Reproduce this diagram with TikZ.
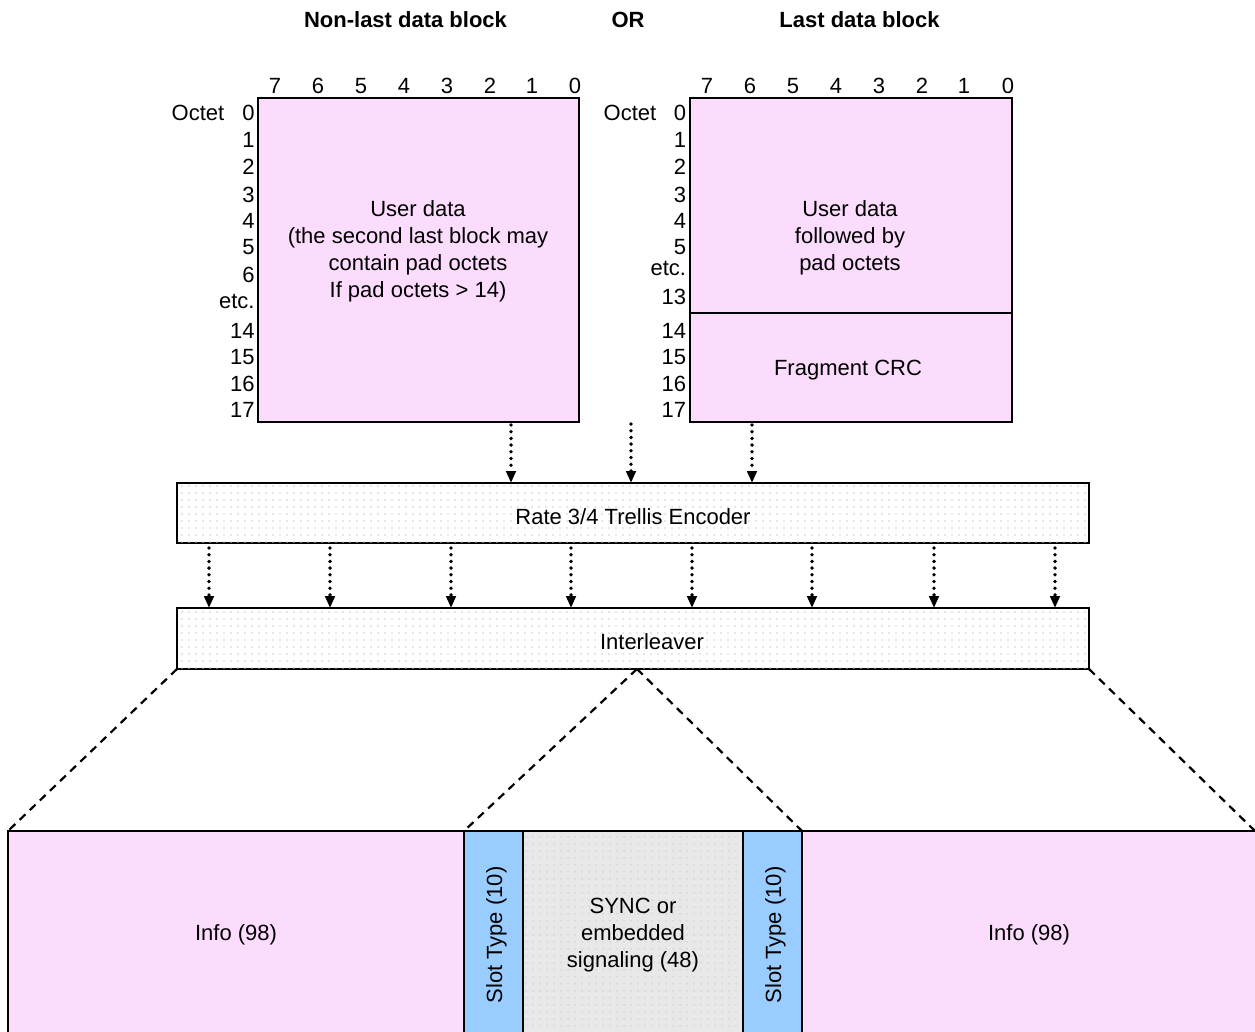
\documentclass[tikz,border=0pt]{standalone}
\usepackage{fontspec}
\setmainfont{Liberation Sans}
\usetikzlibrary{arrows.meta,patterns.meta,calc}
\definecolor{pinkfill}{RGB}{252,220,252}
\definecolor{slotblue}{RGB}{153,204,255}
\definecolor{syncgray}{RGB}{232,232,232}
\definecolor{dotgray}{RGB}{205,205,205}
\begin{document}
\begin{tikzpicture}[x=1pt,y=-1pt,
  lbl/.style={font=\fontsize{22}{27}\selectfont, inner sep=0pt, outer sep=0pt},
  ttl/.style={font=\fontsize{22}{27}\selectfont\bfseries, inner sep=0pt},
  box/.style={draw, line width=1.8pt, inner sep=0pt, outer sep=0pt, anchor=north west,
              font=\fontsize{22}{27}\selectfont, align=center},
  dotted box/.style={box, fill=white, postaction={pattern={Dots[radius=0.8pt,distance=7pt]}, pattern color=dotgray}},
  flow/.style={line width=3.8pt, dash pattern=on 0pt off 6.7pt, line cap=round,
               -{Triangle[width=9.5pt,length=12pt,line cap=butt,line join=miter]}},
  fan/.style={line width=2.2pt, dash pattern=on 8pt off 6pt}
]
\useasboundingbox (0,0) rectangle (1255,1032);

% titles
\node[ttl] (t1) at (405.5,20) {Non-last data block};
\node[ttl] (t2) at (628,20) {OR};
\node[ttl] (t3) at (859.5,20) {Last data block};

% left block
\node[box, fill=pinkfill, minimum width=321pt, minimum height=324pt] (blkL) at (258,98) {};
\node[lbl, align=center] (txtL) at (418,251) {User data\\(the second last block may\\contain pad octets\\If pad octets > 14)};
\foreach \b/\x [count=\i] in {7/275,6/318,5/361,4/404,3/447,2/490,1/532,0/575}
  \node[lbl] (bL\i) at (\x,86) {\b};
\node[lbl] (octL) at (198,113) {Octet};
\foreach \t/\y [count=\i] in {0/113,1/140,2/167,3/195,4/221,5/247,6/275,etc./301,14/331,15/357,16/384,17/410}
  \node[lbl, anchor=east] (oL\i) at (254.5,\y) {\t};

% right block
\node[box, fill=pinkfill, minimum width=322pt, minimum height=324pt] (blkR) at (690,98) {};
\coordinate (dv) at (690,313);
\draw[line width=1.5pt] (dv) -- (dv -| blkR.east);
\node[lbl, align=center] (txtR) at (850,238) {User data\\followed by\\pad octets};
\node[lbl] (crc) at (848,370) {Fragment CRC};
\foreach \b/\x [count=\i] in {7/707,6/750,5/793,4/836,3/879,2/922,1/964,0/1008}
  \node[lbl] (bR\i) at (\x,86) {\b};
\node[lbl] (octR) at (630,113) {Octet};
\foreach \t/\y [count=\i] in {0/113,1/140,2/167,3/195,4/221,5/247,etc./268,13/297,14/331,15/357,16/384,17/410}
  \node[lbl, anchor=east] (oR\i) at (686,\y) {\t};

% encoder and interleaver
\node[dotted box, minimum width=912pt, minimum height=60pt] (enc) at (177,483) {};
\node[lbl] (encT) at (633,516.5) {Rate 3/4 Trellis Encoder};
\node[dotted box, minimum width=912pt, minimum height=61pt] (intl) at (177,608) {};
\node[lbl] (intT) at (652,642) {Interleaver};

% arrows into encoder
\coordinate (s1) at (511,425);
\coordinate (s2) at (631,424);
\coordinate (s3) at (752,425);
\foreach \s in {s1,s2,s3}
  \draw[flow] (\s) -- (\s |- enc.north);

% arrows encoder -> interleaver
\foreach \x [count=\i] in {209,330,451,571,692,812,934,1055} {
  \coordinate (e\i) at (\x,548);
  \draw[flow] (e\i) -- (e\i |- intl.north);
}

% bottom burst
\begin{scope}
\clip (0,0) rectangle (1255,1032);
\node[box, fill=pinkfill, minimum width=456pt, minimum height=208pt] (infoL) at (8,831) {Info (98)};
\node[box, fill=slotblue, minimum width=59pt, minimum height=208pt] (slotL) at (464,831) {};
\node[lbl, rotate=90] (slotLT) at ([xshift=3pt]slotL.center) {Slot Type (10)};
\node[box, fill=syncgray, minimum width=220pt, minimum height=208pt,
      postaction={pattern={Dots[radius=0.8pt,distance=6.5pt]}, pattern color=black!22}] (sync) at (523,831) {};
\node[lbl, align=center] (syncT) at ([yshift=-0.5pt]sync.center) {SYNC or\\embedded\\signaling (48)};
\node[box, fill=slotblue, minimum width=59pt, minimum height=208pt] (slotR) at (743,831) {};
\node[lbl, rotate=90] (slotRT) at ([xshift=3pt]slotR.center) {Slot Type (10)};
\node[box, fill=pinkfill, minimum width=470pt, minimum height=208pt] (infoR) at (802,831) {};
\node[lbl] (infoRT) at (1029,935) {Info (98)};

% fan lines
\coordinate (apex) at (637,669);
\coordinate (farR) at (1255,831);
\draw[fan] (intl.south west) -- (infoL.north west);
\draw[fan] (apex) -- (slotL.north west);
\draw[fan] (apex) -- (slotR.north east);
\draw[fan] (intl.south east) -- (farR);
\end{scope}
\end{tikzpicture}
\end{document}
